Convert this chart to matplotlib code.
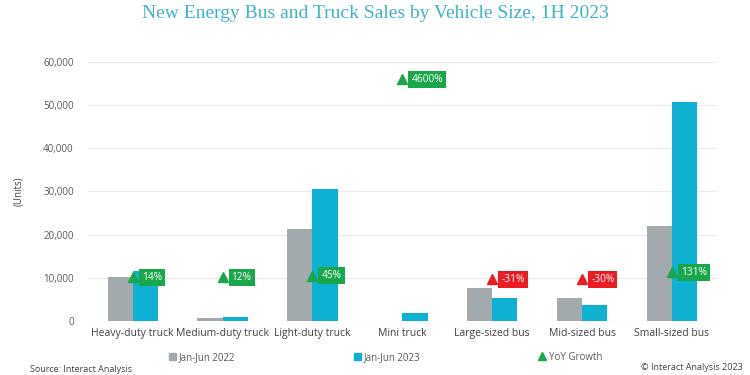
import matplotlib
matplotlib.use("Agg")
import matplotlib.pyplot as plt
from matplotlib.lines import Line2D
from matplotlib.patches import Patch
import numpy as np

plt.rcParams['font.family'] = ['Open Sans', 'DejaVu Sans']

# data ------------------------------------------------------------------------
categories = ['Heavy-duty truck', 'Medium-duty truck', 'Light-duty truck', 'Mini truck',
              'Large-sized bus', 'Mid-sized bus', 'Small-sized bus']
sales_2022 = [10200, 800, 21200, 40, 7600, 5400, 22000]
sales_2023 = [11600, 900, 30600, 1900, 5300, 3800, 50800]
growth = [14, 12, 45, 4600, -31, -30, 131]

GRAY = '#a3aaae'
BLUE = '#0fb1d3'
GREEN = '#1aa64b'
RED = '#ec1c24'
TXT = '#404040'

fig = plt.figure(figsize=(7.5, 3.75), dpi=100)
ax = fig.add_axes([0.117, 0.144, 0.839, 0.691])

x = np.arange(len(categories))
w = 0.28
ax.bar(x - w / 2, sales_2022, w, color=GRAY, zorder=2)
ax.bar(x + w / 2, sales_2023, w, color=BLUE, zorder=2)

ax.set_ylim(0, 60000)
ax.set_xlim(-0.5, len(categories) - 0.5)
ax.set_yticks(np.arange(0, 60001, 10000))
ax.set_yticklabels([f'{v:,}' for v in range(0, 60001, 10000)], fontsize=7, color='#595959')
ax.set_xticks(x)
ax.set_xticklabels(categories, fontsize=7.5, color=TXT)
ax.tick_params(length=0, pad=5)
ax.tick_params(axis='y', pad=10)
ax.grid(axis='y', color='#ececec', linewidth=0.8, zorder=0)
for s in ax.spines.values():
    s.set_visible(False)
ax.axhline(0, color='#d9d9d9', linewidth=0.8, zorder=1)
ax.set_ylabel('(Units)', fontsize=7, color=TXT, labelpad=14)

# growth on hidden secondary axis
ax2 = ax.twinx()
ax2.set_ylim(-1000, 5000)
ax2.set_xlim(-0.5, len(categories) - 0.5)
ax2.axis('off')
for i, g in enumerate(growth):
    c = GREEN if g >= 0 else RED
    ax2.plot(i, g, marker='^', color=c, markersize=7, linestyle='none', zorder=4)
    ax2.text(i + 0.1, g, f'{g}%', color='white', fontsize=7.3, va='center', ha='left',
             bbox=dict(boxstyle='square,pad=0.3', fc=c, ec='none'), zorder=5)

fig.text(0.5, 0.965, 'New Energy Bus and Truck Sales by Vehicle Size, 1H 2023',
         ha='center', va='center', fontsize=14, color='#3fb3c8', family='Liberation Serif')

handles = [Patch(color=GRAY), Patch(color=BLUE),
           Line2D([], [], marker='^', color=GREEN, linestyle='none', markersize=6)]
fig.legend(handles, ['Jan-Jun 2022', 'Jan-Jun 2023', 'YoY Growth'], loc='center',
           bbox_to_anchor=(0.514, 0.047), ncol=3, frameon=False, fontsize=7,
           handlelength=0.7, handleheight=0.7, handletextpad=0.3, columnspacing=12.2,
           labelcolor='#595959')

fig.text(0.04, 0.002, 'Source: Interact Analysis', fontsize=6.5, color=TXT, va='bottom')
fig.text(0.99, 0.008, '© Interact Analysis 2023', fontsize=6.5, color=TXT, va='bottom', ha='right')

fig.savefig('out.png', dpi=100)
